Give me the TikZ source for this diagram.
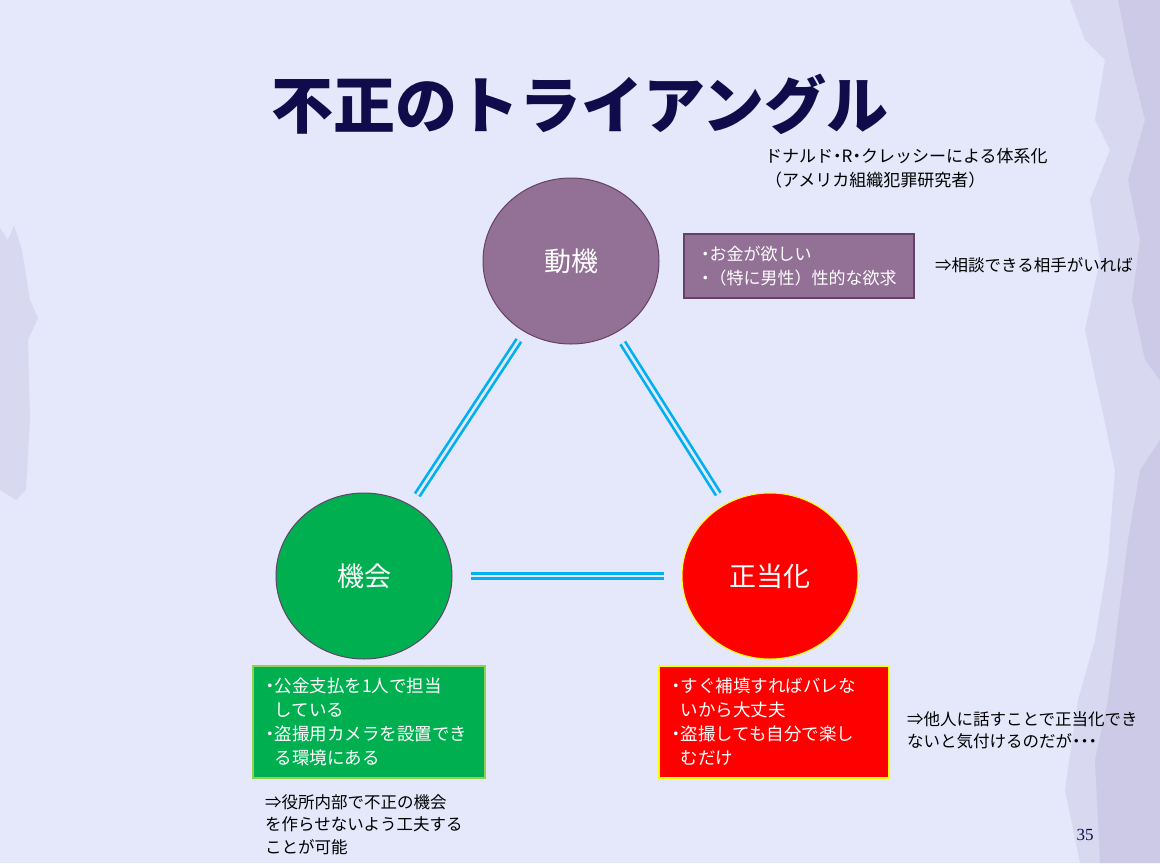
\documentclass[tikz,border=0pt]{standalone}
\usepackage{fontspec}
\setmainfont{Noto Sans CJK JP}
\newfontfamily\pagefont{Liberation Serif}
\usetikzlibrary{shapes.geometric}
\definecolor{slidebg}{RGB}{228,232,250}
\definecolor{brushlight}{RGB}{216,217,240}
\definecolor{brushdark}{RGB}{204,202,230}
\definecolor{titlenavy}{RGB}{14,12,74}
\definecolor{motivpurple}{RGB}{147,112,150}
\definecolor{motivedge}{RGB}{100,66,104}
\definecolor{chancegreen}{RGB}{0,176,80}
\definecolor{chanceedge}{RGB}{146,208,80}
\definecolor{ratred}{RGB}{255,0,0}
\definecolor{ratyellow}{RGB}{255,255,0}
\definecolor{linkcyan}{RGB}{0,176,240}

\newcommand{\bul}{\makebox[0.5em][c]{・}}
\newcommand{\ind}{\hspace*{0.5em}}

\tikzset{
  factor/.style={ellipse, minimum width=176, minimum height=166, line width=1pt,
    text=white, font=\fontsize{27}{27}\selectfont},
  reasonbox/.style={anchor=north west, line width=1.6pt, text=white, align=left,
    inner xsep=13, font=\fontsize{17.5}{24}\selectfont},
  remark/.style={anchor=north west, align=left, text=black,
    font=\fontsize{16.5}{22.5}\selectfont, inner sep=0},
  link/.style={draw=linkcyan, line width=2.7pt, double=slidebg, double distance=2.6pt}
}

\begin{document}
\begin{tikzpicture}[x=1pt,y=-1pt]

  % Background
  \fill[slidebg] (0,0) rectangle (1160,863);
  \useasboundingbox (0,0) rectangle (1160,863);

  % Brush strokes at the edges
  \fill[brushlight] (0,228) -- (8,240) -- (14,225) -- (22,250) -- (30,300) -- (38,318)
    -- (28,340) -- (30,420) -- (26,490) -- (16,500) -- (0,490) -- cycle;
  \fill[brushlight] (1160,0) -- (1070,0) -- (1085,40) -- (1105,60) -- (1095,120)
    -- (1110,150) -- (1090,200) -- (1100,260) -- (1085,330) -- (1100,400) -- (1115,470)
    -- (1108,560) -- (1095,640) -- (1078,700) -- (1065,790) -- (1080,863) -- (1160,863) -- cycle;
  \fill[brushdark] (1160,0) -- (1118,0) -- (1130,60) -- (1145,120) -- (1128,180)
    -- (1140,240) -- (1132,300) -- (1145,360) -- (1160,380) -- cycle;
  \fill[brushdark] (1160,440) -- (1140,470) -- (1128,540) -- (1118,620) -- (1108,700)
    -- (1095,760) -- (1100,863) -- (1160,863) -- cycle;

  % Title and source
  \node[text=titlenavy, font=\fontsize{62}{62}\selectfont\bfseries] (title) at (580,104)
    {不正のトライアングル};
  \node[remark, font=\fontsize{17}{24}\selectfont] (source) at (765,148)
    {ドナルド\bul R\bul クレッシーによる体系化\\（アメリカ組織犯罪研究者）};

  % Three factors
  \node[factor, fill=motivpurple, draw=motivedge] (motive) at (571,261) {動機};
  \node[factor, fill=chancegreen, draw=motivedge] (chance) at (364,576) {機会};
  \node[factor, fill=ratred, draw=ratyellow] (excuse) at (770,576) {正当化};

  % Double links
  \draw[link, shorten <=10, shorten >=12] (motive) -- (chance);
  \draw[link, shorten <=12, shorten >=12] (motive) -- (excuse);
  \draw[link, shorten <=18, shorten >=18] (chance.east) -- (excuse.west);

  % Boxes
  \node[reasonbox, fill=motivpurple, draw=motivedge, minimum width=230, minimum height=64,
    inner xsep=11, font=\fontsize{17}{24}\selectfont] (motivebox) at (683,233)
    {\bul お金が欲しい\\\bul （特に男性）性的な欲求};
  \node[reasonbox, fill=chancegreen, draw=chanceedge, minimum width=232, minimum height=112,
    text width=206] (chancebox) at (252,665)
    {\bul 公金支払を1人で担当\\\ind している\\\bul 盗撮用カメラを設置でき\\\ind る環境にある};
  \node[reasonbox, fill=ratred, draw=ratyellow, minimum width=230, minimum height=112,
    text width=204] (excusebox) at (658,665)
    {\bul すぐ補填すればバレな\\\ind いから大丈夫\\\bul 盗撮しても自分で楽し\\\ind むだけ};

  % Remarks
  \node[remark] (motivenote) at (935,257) {⇒相談できる相手がいれば};
  \node[remark] (chancenote) at (265,794)
    {⇒役所内部で不正の機会\\を作らせないよう工夫する\\ことが可能};
  \node[remark] (excusenote) at (907,711)
    {⇒他人に話すことで正当化でき\\ないと気付けるのだが\bul\bul\bul};

  % Page number
  \node[text=titlenavy, font=\pagefont\fontsize{17}{17}\selectfont] (pagenum) at (1085,835) {35};

\end{tikzpicture}
\end{document}
